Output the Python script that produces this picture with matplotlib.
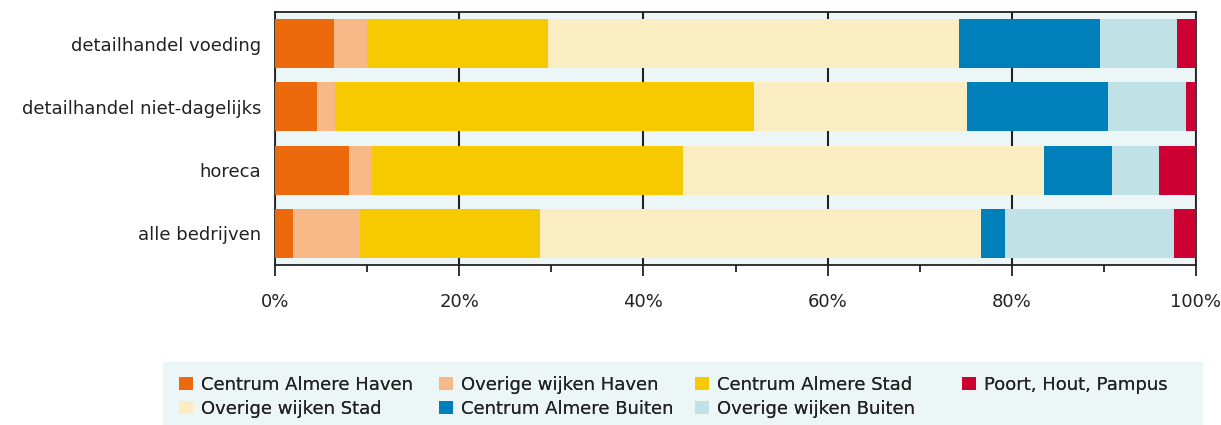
import matplotlib.pyplot as plt
import matplotlib.patches as mpatches
import numpy as np

categories = ['detailhandel voeding', 'detailhandel niet-dagelijks', 'horeca', 'alle bedrijven']
series_names = ['Centrum Almere Haven', 'Overige wijken Haven', 'Centrum Almere Stad',
                'Overige wijken Stad', 'Centrum Almere Buiten', 'Overige wijken Buiten',
                'Poort, Hout, Pampus']
colors = ['#EC6A0C', '#F7B988', '#F6C900', '#FBEDC2', '#0080BA', '#C0E2E6', '#CC0033']

# share per category (%), one list per series
centrum_haven = [6.4, 4.6, 8.0, 2.0]
overige_haven = [3.6, 1.9, 2.5, 7.2]
centrum_stad = [19.6, 45.5, 33.8, 19.6]
overige_stad = [44.7, 23.1, 39.2, 47.9]
centrum_buiten = [15.3, 15.3, 7.4, 2.6]
overige_buiten = [8.3, 8.5, 5.1, 18.3]
poort_hout_pampus = [2.1, 1.1, 4.0, 2.4]

series = [centrum_haven, overige_haven, centrum_stad, overige_stad,
          centrum_buiten, overige_buiten, poort_hout_pampus]

plt.rcParams['font.family'] = ['DejaVu Sans']
txt = '#222222'
bg = '#EDF6F7'
fs = 13

fig = plt.figure(figsize=(12.21, 4.25), dpi=100)
ax = fig.add_axes([275/1221, 1-265/425, 921/1221, 253/425])
ax.set_facecolor(bg)

y = np.arange(len(categories))
left = np.zeros(len(categories))
handles = []
for vals, name, c in zip(series, series_names, colors):
    vals = np.array(vals)
    b = ax.barh(y, vals, left=left, height=0.775, color=c, label=name, zorder=3)
    handles.append(b)
    left += vals

ax.set_xlim(0, 100)
ax.set_ylim(3.5, -0.5)
ax.set_yticks(y)
ax.set_yticklabels(categories, fontsize=fs, color=txt)
ax.tick_params(axis='y', length=0, pad=10)
ax.set_xticks(np.arange(0, 101, 20))
ax.set_xticklabels([f'{v}%' for v in range(0, 101, 20)], fontsize=fs, color=txt)
ax.set_xticks(np.arange(10, 100, 20), minor=True)
ax.tick_params(axis='x', which='major', length=8, width=1.3, color='#222', pad=12)
ax.tick_params(axis='x', which='minor', length=5, width=1.3, color='#222')
ax.grid(axis='x', which='major', color='#222', linewidth=1.5, zorder=1)
ax.set_axisbelow(True)
for s in ax.spines.values():
    s.set_color('#222')
    s.set_linewidth(1.3)

# legend background
fig.patches.append(mpatches.Rectangle((163/1221, 0), (1202-163)/1221, 63/425,
                                      transform=fig.transFigure, color=bg, zorder=0))

# legend columns: (handle indices, x position in px, y centre in px from bottom)
leg_cols = [([0, 3], 170, 28), ([1, 4], 430, 28), ([2, 5], 686, 28), ([6], 953, 40)]
for idx, xpx, ypx in leg_cols:
    leg = fig.legend([handles[i] for i in idx], [series_names[i] for i in idx],
                     loc='center left', bbox_to_anchor=(xpx/1221, ypx/425),
                     frameon=False, fontsize=fs, handlelength=0.75, handleheight=0.75,
                     handletextpad=0.45, labelspacing=0.35, borderpad=0, labelcolor=txt)
    fig.add_artist(leg)

fig.savefig('out.png', dpi=100)
